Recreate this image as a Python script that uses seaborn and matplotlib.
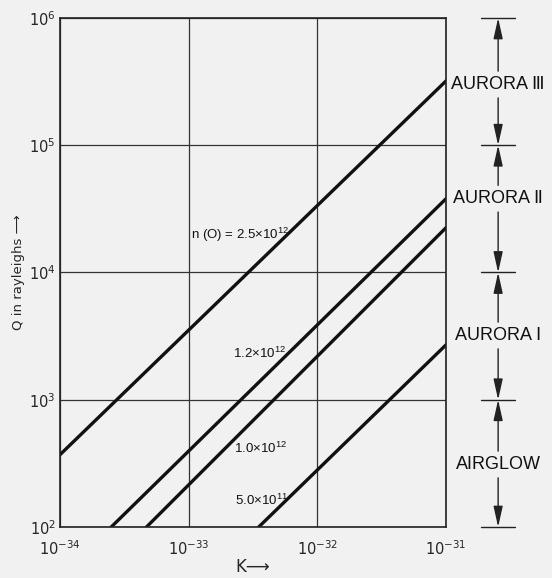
import matplotlib
matplotlib.use("Agg")
import matplotlib.pyplot as plt
import matplotlib.transforms as mtransforms
import seaborn as sns
import pandas as pd

# ===============================
# data
# ===============================
curve_names = ["2.5e12", "1.2e12", "1.0e12", "5.0e11"]
curve_k = [
    [1e-34, 1e-31],
    [2.5e-34, 1e-31],
    [4.7e-34, 1e-31],
    [3.5e-33, 1e-31],
]
curve_q = [
    [370, 3.2e5],
    [100, 3.8e4],
    [100, 2.25e4],
    [100, 2.7e3],
]
curve_labels = [
    "n (O) = 2.5×10$^{12}$",
    "1.2×10$^{12}$",
    "1.0×10$^{12}$",
    "5.0×10$^{11}$",
]
label_k = [1.05e-33, 2.2e-33, 2.25e-33, 2.3e-33]
label_q = [1.97e4, 2330, 417, 163]

x_ticks = [1e-34, 1e-33, 1e-32, 1e-31]
y_ticks = [1e2, 1e3, 1e4, 1e5, 1e6]

region_names = ["AIRGLOW", "AURORA Ⅰ", "AURORA Ⅱ", "AURORA Ⅲ"]
region_bounds = [1e2, 1e3, 1e4, 1e5, 1e6]
region_label_q = [310, 3.2e3, 3.8e4, 3.0e5]

rows = []
for name, ks, qs in zip(curve_names, curve_k, curve_q):
    for k, q in zip(ks, qs):
        rows.append({"curve": name, "K": k, "Q": q})
df = pd.DataFrame(rows)

sns.set_style("white")
plt.rcParams["font.family"] = ["DejaVu Sans"]
plt.rcParams["mathtext.fontset"] = "custom"
plt.rcParams["mathtext.rm"] = "Liberation Sans"
plt.rcParams["mathtext.it"] = "Liberation Sans"
plt.rcParams["mathtext.default"] = "regular"
narrow = ["Liberation Sans", "DejaVu Sans"]

bg = "#f1f1f1"
fig = plt.figure(figsize=(5.52, 5.78), dpi=100, facecolor=bg)
ax = fig.add_axes([0.1087, 0.0882, 0.6993, 0.8807])
ax.set_facecolor(bg)

sns.lineplot(data=df, x="K", y="Q", hue="curve", estimator=None,
             palette=["#111111"] * 4, linewidth=2.4, legend=False, ax=ax)

ax.set_xscale("log")
ax.set_yscale("log")
ax.set_xlim(1e-34, 1e-31)
ax.set_ylim(1e2, 1e6)
ax.set_xticks(x_ticks)
ax.set_yticks(y_ticks)
ax.minorticks_off()
ax.grid(True, which="major", color="#333333", linewidth=0.9)
ax.tick_params(axis="both", length=0, labelsize=10.5)
ax.tick_params(axis="x", pad=9)
ax.tick_params(axis="y", pad=3)
for s in ax.spines.values():
    s.set_color("#222222")
    s.set_linewidth(1.2)

ax.set_xlabel("K⟶", fontsize=12, labelpad=0)
ax.set_ylabel("Q in rayleighs ⟶", fontsize=9.5, labelpad=3)

for txt, k, q in zip(curve_labels, label_k, label_q):
    ax.text(k, q, txt, fontsize=9.5, family=narrow, va="center", ha="left",
            color="#111111")

# ===============================
# right-hand brackets
# ===============================
trans = mtransforms.blended_transform_factory(ax.transAxes, ax.transData)
xa = 1.135
for b in region_bounds:
    ax.plot([1.091, 1.179], [b, b], color="#222222", lw=1,
            transform=trans, clip_on=False)

arrow = dict(arrowstyle="-|>,head_length=0.9,head_width=0.2",
             color="#222222", lw=1, shrinkA=0, shrinkB=0, mutation_scale=14)
for i, (name, q) in enumerate(zip(region_names, region_label_q)):
    ax.text(xa, q, name, transform=trans, fontsize=13, family=narrow,
            ha="center", va="center", color="#111111")
    ax.annotate("", xy=(xa, region_bounds[i + 1]), xytext=(xa, q * 10**0.105),
                xycoords=trans, textcoords=trans, arrowprops=arrow,
                annotation_clip=False)
    ax.annotate("", xy=(xa, region_bounds[i]), xytext=(xa, q / 10**0.105),
                xycoords=trans, textcoords=trans, arrowprops=arrow,
                annotation_clip=False)

fig.savefig("out.png", dpi=100, facecolor=bg)
